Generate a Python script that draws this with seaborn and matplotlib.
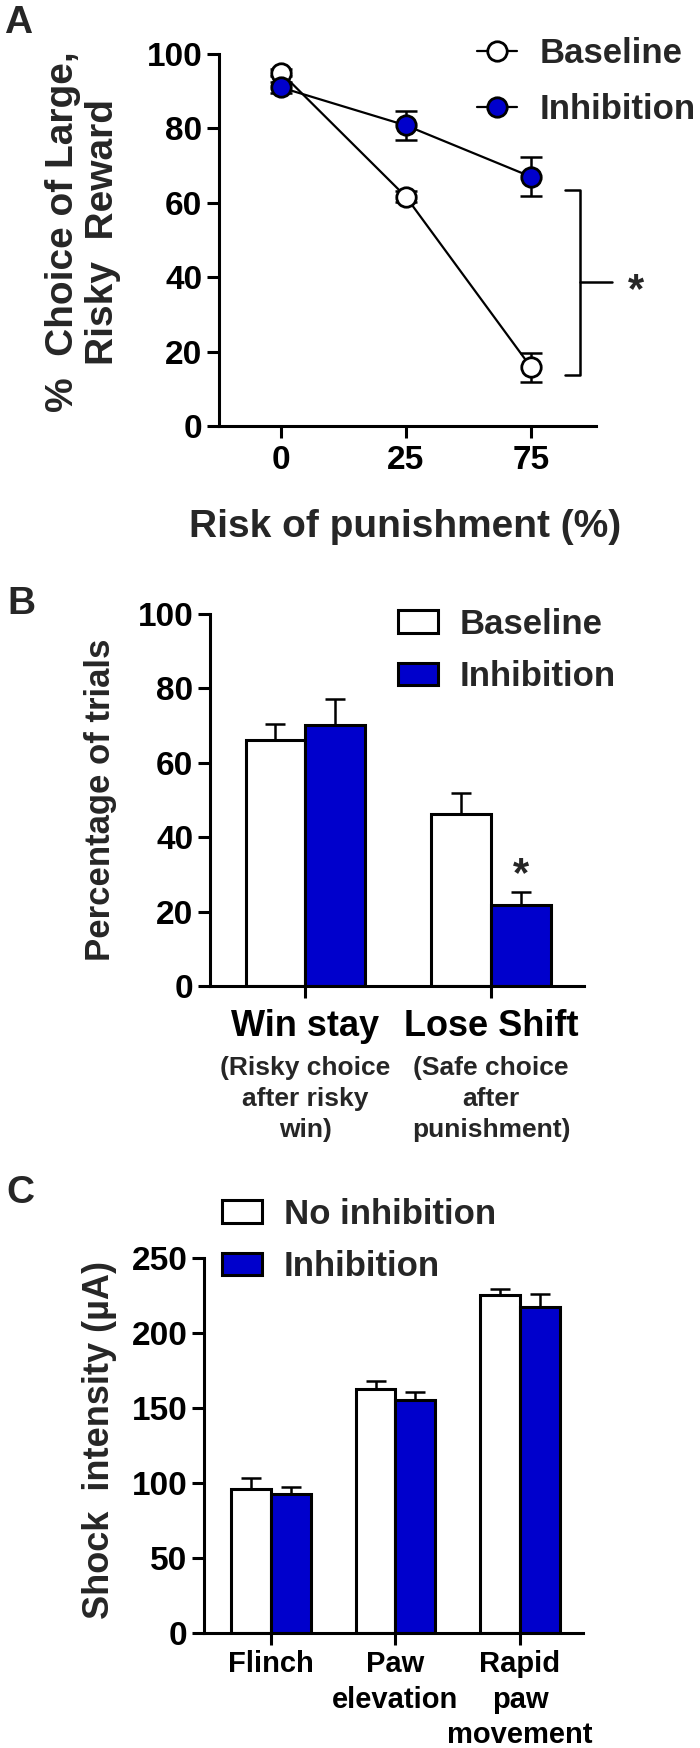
import matplotlib
matplotlib.use("Agg")
import matplotlib.pyplot as plt
import pandas as pd
import seaborn as sns
from matplotlib.lines import Line2D
from matplotlib.patches import Patch

# ----------------------------------------------------------
# Data
# ----------------------------------------------------------

# panel A : choice of large risky reward
risk_levels = ["0", "25", "75"]
a_baseline = [95.0, 61.6, 15.8]
a_baseline_sem = [1.0, 1.5, 3.9]
a_inhibition = [91.0, 80.8, 67.0]
a_inhibition_sem = [1.5, 4.0, 5.3]

# panel B : win-stay / lose-shift
b_categories = ["Win stay", "Lose Shift"]
b_sublabels = ["(Risky choice\nafter risky\nwin)", "(Safe choice\nafter\npunishment)"]
b_baseline = [66.1, 46.2]
b_baseline_sem = [4.3, 5.7]
b_inhibition = [70.2, 21.8]
b_inhibition_sem = [6.9, 3.5]

# panel C : shock sensitivity
c_categories = ["Flinch", "Paw\nelevation", "Rapid\npaw\nmovement"]
c_no_inhibition = [96.2, 162.7, 225.3]
c_no_inhibition_sem = [7.1, 5.3, 4.0]
c_inhibition = [92.7, 155.3, 217.1]
c_inhibition_sem = [4.8, 5.7, 9.2]

BLUE = "#0000CC"
W, H = 700, 1748

sns.set_style("ticks")
plt.rcParams["font.family"] = ["Liberation Sans", "DejaVu Sans"]
plt.rcParams["font.weight"] = "bold"
plt.rcParams["axes.labelweight"] = "bold"


def fx(px):
    return px / W


def fy(py):
    return 1 - py / H


def make_axes(fig, left, right, top, bottom):
    return fig.add_axes([fx(left), fy(bottom), (right - left) / W, (bottom - top) / H])


def style_axes(ax, labelsize=24):
    sns.despine(ax=ax)
    for side in ["left", "bottom"]:
        ax.spines[side].set_linewidth(2.2)
        ax.spines[side].set_color("black")
    ax.tick_params(width=2.2, length=8.5, labelsize=labelsize, colors="black",
                   direction="out")
    for lab in ax.get_yticklabels():
        lab.set_fontweight("bold")
    ax.set_xlabel("")
    ax.set_ylabel("")


def bar_errors(ax, sems):
    # upward-only error bars on top of each seaborn bar
    for container, errs in zip(ax.containers, sems):
        for bar, e in zip(container, errs):
            x = bar.get_x() + bar.get_width() / 2
            y = bar.get_height()
            ax.errorbar([x], [y], yerr=[[0], [e]], fmt="none", ecolor="black",
                        elinewidth=1.8, capsize=7, capthick=1.8, zorder=0.9)


def bar_legend(ax, labels, x_px, y_px):
    handles = [Patch(facecolor="white", edgecolor="black", linewidth=2.2),
               Patch(facecolor=BLUE, edgecolor="black", linewidth=2.2)]
    ax.legend(handles, labels, loc="upper left",
              bbox_to_anchor=(fx(x_px), fy(y_px)), bbox_transform=ax.figure.transFigure,
              frameon=False, borderpad=0, borderaxespad=0,
              handlelength=1.15, handleheight=0.63, handletextpad=0.63,
              labelspacing=0.55, prop={"size": 25, "weight": "bold"})


fig = plt.figure(figsize=(7, 17.48), dpi=100)

# ==========================================================
# Panel A
# ==========================================================

ax_a = make_axes(fig, 219, 596, 54, 426)

for values, face in [(a_baseline, "white"), (a_inhibition, BLUE)]:
    sns.lineplot(x=risk_levels, y=values, sort=False, color="black", linewidth=1.6,
                 marker="o", markersize=14, markerfacecolor=face,
                 markeredgecolor="black", markeredgewidth=2, ax=ax_a, zorder=3)

positions = range(len(risk_levels))
ax_a.errorbar(positions, a_baseline, yerr=a_baseline_sem, fmt="none", ecolor="black",
              elinewidth=1.8, capsize=8, capthick=1.8, zorder=1)
ax_a.errorbar(positions, a_inhibition, yerr=a_inhibition_sem, fmt="none", ecolor="black",
              elinewidth=1.8, capsize=8, capthick=1.8, zorder=1)

ax_a.set_xlim(-0.496, 2.52)
ax_a.set_ylim(0, 100)
ax_a.set_yticks(range(0, 101, 20))
style_axes(ax_a)
ax_a.tick_params(axis="x", pad=5)

# significance bracket
x_bar = 2.39
ax_a.plot([2.27, x_bar, x_bar, 2.27], [63.4, 63.4, 13.7, 13.7], color="black",
          linewidth=1.8, clip_on=False)
ax_a.plot([x_bar, 2.65], [38.7, 38.7], color="black", linewidth=1.8, clip_on=False)
ax_a.text(2.84, 36.3, "*", ha="center", va="center", fontsize=30, clip_on=False)

a_handles = [Line2D([], [], color="black", linewidth=1.6, marker="o", markersize=14,
                    markerfacecolor=f, markeredgecolor="black", markeredgewidth=2)
             for f in ["white", BLUE]]
ax_a.legend(a_handles, ["Baseline", "Inhibition"], loc="upper left",
            bbox_to_anchor=(fx(477), fy(37)), bbox_transform=fig.transFigure,
            frameon=False, borderpad=0, borderaxespad=0, handlelength=1.15,
            handletextpad=0.66, labelspacing=0.66, prop={"size": 25, "weight": "bold"})

fig.text(fx(83), fy(232), "%  Choice of Large,\nRisky  Reward", rotation=90,
         ha="center", va="center", fontsize=28, fontweight="bold", linespacing=1.17)
fig.text(fx(405), fy(527), "Risk of punishment (%)", ha="center", va="center",
         fontsize=28, fontweight="bold")
fig.text(fx(18), fy(23), "A", ha="center", va="center", fontsize=28, fontweight="bold")

# ==========================================================
# Panel B
# ==========================================================

ax_b = make_axes(fig, 210, 584, 614, 986)

df_b = pd.DataFrame({
    "behaviour": b_categories * 2,
    "value": b_baseline + b_inhibition,
    "condition": ["Baseline"] * 2 + ["Inhibition"] * 2,
})
sns.barplot(data=df_b, x="behaviour", y="value", hue="condition",
            palette={"Baseline": "white", "Inhibition": BLUE}, saturation=1,
            edgecolor="black", linewidth=2.2, width=0.64, gap=0, errorbar=None,
            legend=False, ax=ax_b)
bar_errors(ax_b, [b_baseline_sem, b_inhibition_sem])

ax_b.set_xlim(-0.511, 1.50)
ax_b.set_ylim(0, 100)
ax_b.set_yticks(range(0, 101, 20))
style_axes(ax_b)
ax_b.tick_params(axis="x", labelsize=26, pad=8)

for i, sub in enumerate(b_sublabels):
    ax_b.annotate(sub, xy=(i, 0), xycoords=("data", "axes fraction"),
                  xytext=(0, -50.4), textcoords="offset points", ha="center", va="top",
                  fontsize=19, fontweight="bold", linespacing=1.36)

# star over the inhibition lose-shift bar
star_bar = ax_b.containers[1][1]
ax_b.annotate("*", xy=(star_bar.get_x() + star_bar.get_width() / 2,
                       b_inhibition[1] + b_inhibition_sem[1]),
              xytext=(0, 4), textcoords="offset points", ha="center", va="baseline",
              fontsize=30)

bar_legend(ax_b, ["Baseline", "Inhibition"], 398, 608)

fig.text(fx(101), fy(800), "Percentage of trials", rotation=90, ha="center",
         va="center", fontsize=25, fontweight="bold")
fig.text(fx(21), fy(604), "B", ha="center", va="center", fontsize=28, fontweight="bold")

# ==========================================================
# Panel C
# ==========================================================

ax_c = make_axes(fig, 204, 583, 1258, 1633)

df_c = pd.DataFrame({
    "response": c_categories * 2,
    "value": c_no_inhibition + c_inhibition,
    "condition": ["No inhibition"] * 3 + ["Inhibition"] * 3,
})
sns.barplot(data=df_c, x="response", y="value", hue="condition",
            palette={"No inhibition": "white", "Inhibition": BLUE}, saturation=1,
            edgecolor="black", linewidth=2.2, width=0.635, gap=0, errorbar=None,
            legend=False, ax=ax_c)
bar_errors(ax_c, [c_no_inhibition_sem, c_inhibition_sem])

ax_c.set_xlim(-0.538, 2.506)
ax_c.set_ylim(0, 250)
ax_c.set_yticks(range(0, 251, 50))
style_axes(ax_c)
ax_c.tick_params(axis="x", labelsize=21, pad=4)
for lab in ax_c.get_xticklabels():
    lab.set_linespacing(1.34)

bar_legend(ax_c, ["No inhibition", "Inhibition"], 222, 1198)

fig.text(fx(100), fy(1440), "Shock  intensity (\u00b5A)", rotation=90, ha="center",
         va="center", fontsize=26, fontweight="bold")
fig.text(fx(20), fy(1193), "C", ha="center", va="center", fontsize=28, fontweight="bold")

fig.savefig("out.png", dpi=100, facecolor="white")
